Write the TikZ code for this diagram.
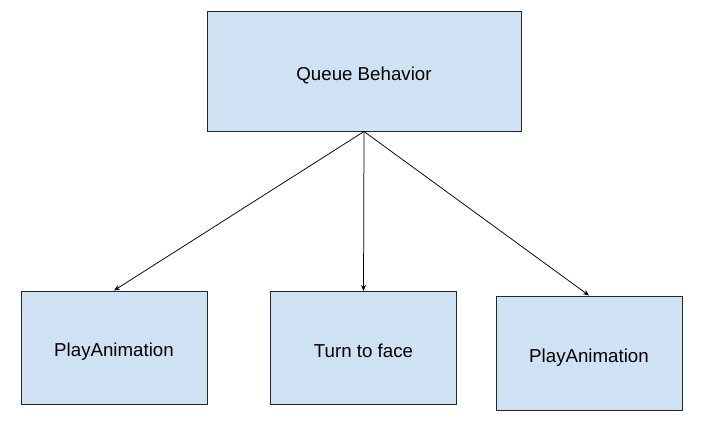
\documentclass[tikz,border=0pt]{standalone}
\usepackage{fontspec}
\setmainfont{Liberation Sans}
\usepackage{tikz}
\usetikzlibrary{positioning}
\usetikzlibrary{arrows.meta}

\definecolor{boxblue}{HTML}{CFE2F3}
\tikzset{
	taskbox/.style={draw=black!85,fill=boxblue,line width=1pt,inner sep=0pt,
		text height=18pt,text depth=0pt,
		minimum width=186pt,minimum height=113pt,font=\fontsize{18.7}{22}\selectfont},
	link/.style={-{Stealth[length=6pt,width=5pt]},line width=.75pt}
}

\begin{document}
\begin{tikzpicture}[x=1pt,y=-1pt]
	\useasboundingbox (0,0) rectangle (711,431);
	%% top
	\node[taskbox,minimum width=314pt,minimum height=120pt] (q1) at (364,71) {Queue Behavior};
	%% bottom row
	\node[taskbox] (p1) at (114,347.5) {PlayAnimation};
	\node[taskbox] (t1) at (363.5,348) {Turn to face};
	\node[taskbox,minimum height=114pt] (p2) at (589,353) {PlayAnimation};
	% arrows
	\draw[link] (q1.south) -- (p1.north);
	\draw[link] (q1.south) -- (t1.north);
	\draw[link] (q1.south) -- (p2.north);
\end{tikzpicture}
\end{document}
